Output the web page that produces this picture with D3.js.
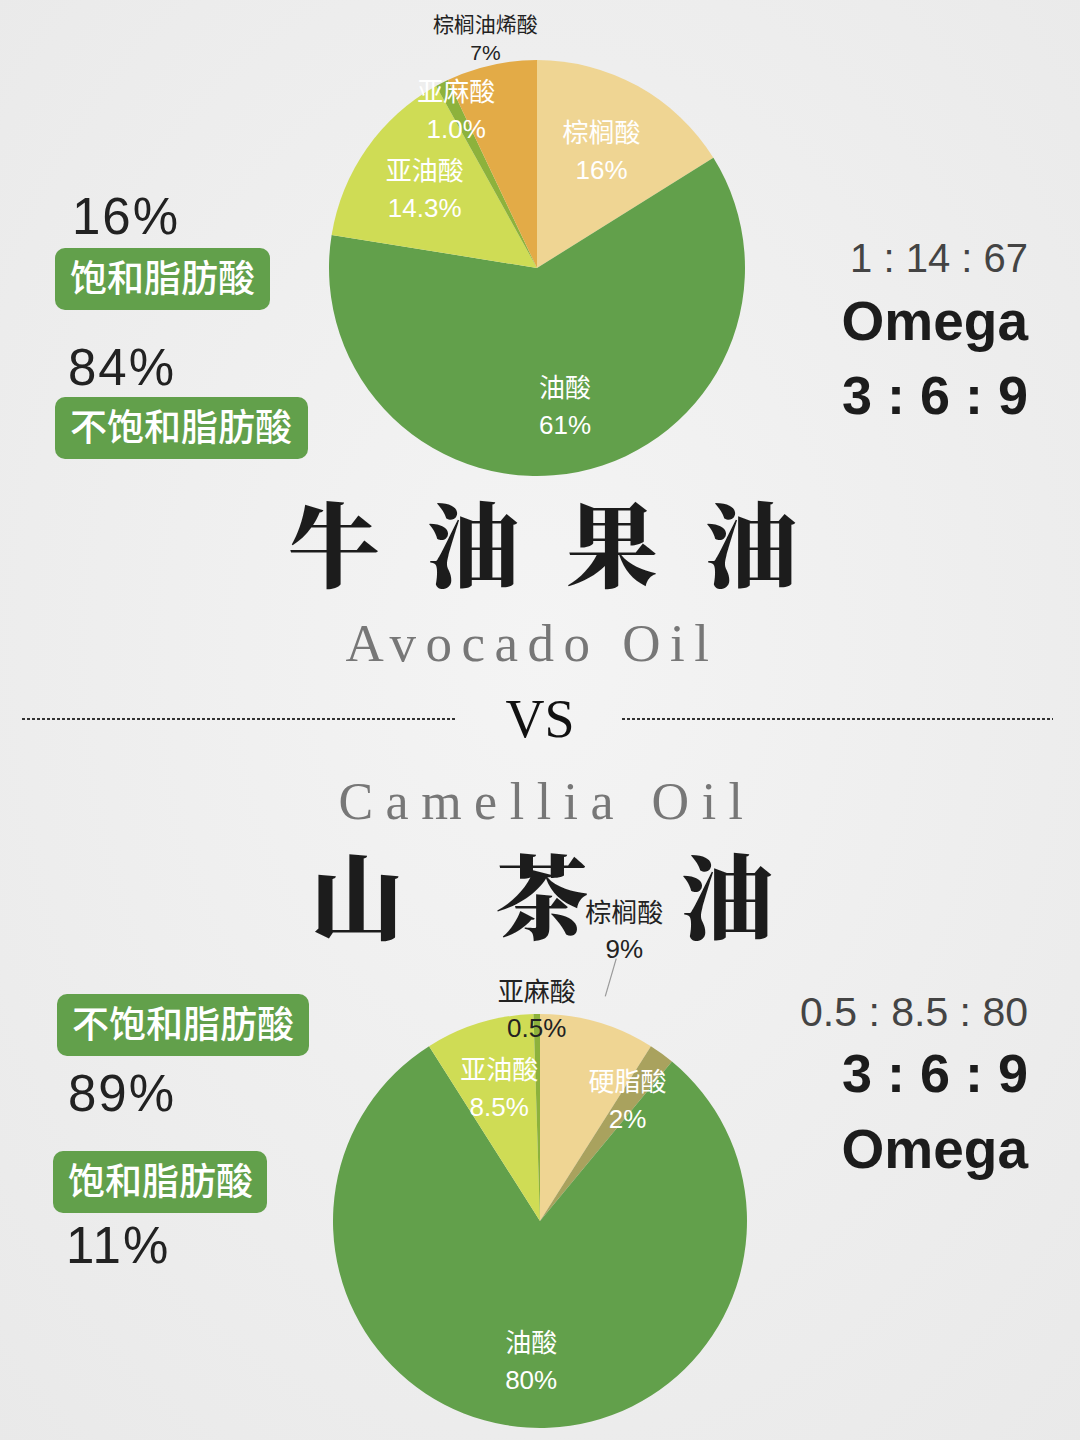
<!DOCTYPE html>
<html>
<head>
<meta charset="utf-8">
<script src="https://cdn.jsdelivr.net/npm/d3@7"></script>
<style>
  html, body { margin: 0; padding: 0; background: #efefef; }
  svg { display: block; }
</style>
</head>
<body>
<div id="chart"></div>
<script>
// ---------- DATA ----------
const avocadoNames  = ["棕榈酸", "油酸", "亚油酸", "亚麻酸", "棕榈油烯酸"];
const avocadoValues = [16, 61, 14.3, 1.0, 7];
const avocadoLabels = ["16%", "61%", "14.3%", "1.0%", "7%"];

const camelliaNames  = ["棕榈酸", "硬脂酸", "油酸", "亚油酸", "亚麻酸"];
const camelliaValues = [9, 2, 80, 8.5, 0.5];
const camelliaLabels = ["9%", "2%", "80%", "8.5%", "0.5%"];

const avocadoFatTypes   = ["饱和脂肪酸", "不饱和脂肪酸"];
const avocadoFatShares  = ["16%", "84%"];
const camelliaFatTypes  = ["不饱和脂肪酸", "饱和脂肪酸"];
const camelliaFatShares = ["89%", "11%"];

const avocadoRatio  = "1 : 14 : 67";
const camelliaRatio = "0.5 : 8.5 : 80";

// ---------- STYLE ----------
const W = 1080, H = 1440;
const colorOf = {
  "棕榈酸": "#efd593", "油酸": "#62a04b", "亚油酸": "#cfdc55",
  "亚麻酸": "#8db23c", "棕榈油烯酸": "#e3ab47", "硬脂酸": "#a9a25e"
};
const GREEN = "#62a04b";
const CJK = "'Noto Sans CJK SC', 'Noto Sans', sans-serif";
const CJK_TITLE = "'Noto Serif CJK SC', 'Noto Sans CJK SC', serif";
const LAT = "'Liberation Sans', Arial, sans-serif";
const SERIF = "'Liberation Serif', 'DejaVu Serif', serif";

const svg = d3.select("#chart").append("svg")
  .attr("width", W).attr("height", H);

// background
const defs = svg.append("defs");
const bg = defs.append("radialGradient").attr("id", "bg").attr("cx", "50%").attr("cy", "45%").attr("r", "75%");
bg.append("stop").attr("offset", "0%").attr("stop-color", "#f4f4f4");
bg.append("stop").attr("offset", "100%").attr("stop-color", "#e9e9e9");
svg.append("rect").attr("width", W).attr("height", H).attr("fill", "url(#bg)");

// ---------- PIE ----------
function drawPie(cx, cy, r, names, values, labels, opts) {
  const data = names.map((n, i) => ({ name: n, value: values[i], label: labels[i] }));
  const pie = d3.pie().sort(null).value(d => d.value).startAngle(0).endAngle(2 * Math.PI);
  const arcs = pie(data);
  const g = svg.append("g").attr("class", "pie").attr("transform", `translate(${cx},${cy})`);
  const arc = d3.arc().innerRadius(0).outerRadius(r);
  g.selectAll("path.slice").data(arcs).join("path")
    .attr("class", "slice")
    .attr("d", arc)
    .attr("fill", d => colorOf[d.data.name]);

  arcs.forEach((a, i) => {
    const o = opts[i];
    const mid = (a.startAngle + a.endAngle) / 2;
    const rr = r * o.rf;
    const x = Math.sin(mid) * rr, y = -Math.cos(mid) * rr;
    if (o.leader) {
      const [r1, r2] = o.leader;
      g.append("line")
        .attr("x1", Math.sin(mid) * r * r1).attr("y1", -Math.cos(mid) * r * r1)
        .attr("x2", Math.sin(mid) * r * r2).attr("y2", -Math.cos(mid) * r * r2)
        .attr("stroke", "#999").attr("stroke-width", 1.2);
    }
    const t = g.append("text")
      .attr("text-anchor", "middle")
      .attr("fill", o.color)
      .attr("font-family", CJK)
      .attr("font-size", o.size);
    t.append("tspan").attr("x", x).attr("y", y - o.gap / 2 + o.size * 0.35).text(a.data.name);
    t.append("tspan").attr("x", x).attr("y", y + o.gap / 2 + o.size * 0.35)
      .attr("font-family", LAT).text(a.data.label);
  });
}

const W_ = "#ffffff", D_ = "#222222";

// ---------- LEFT BLOCKS ----------
function pct(x, y, txt) {
  svg.append("text").attr("x", x).attr("y", y)
    .attr("font-family", LAT).attr("font-size", 51).attr("fill", "#222")
    .attr("letter-spacing", 2).text(txt);
}
function box(x, y, w, txt) {
  svg.append("rect").attr("x", x).attr("y", y).attr("width", w).attr("height", 62)
    .attr("rx", 10).attr("fill", GREEN);
  svg.append("text").attr("x", x + 15).attr("y", y + 44)
    .attr("font-family", CJK).attr("font-size", 37).attr("font-weight", 500)
    .attr("fill", "#fff").text(txt);
}
pct(72, 234, avocadoFatShares[0]);
box(55, 248, 215, avocadoFatTypes[0]);
pct(68, 385, avocadoFatShares[1]);
box(55, 397, 253, avocadoFatTypes[1]);

box(57, 994, 252, camelliaFatTypes[0]);
pct(68, 1111, camelliaFatShares[0]);
box(53, 1151, 214, camelliaFatTypes[1]);
pct(66, 1263, camelliaFatShares[1]);

// ---------- RIGHT BLOCKS ----------
function rtext(y, txt, size, weight, color) {
  svg.append("text").attr("x", 1028).attr("y", y).attr("text-anchor", "end")
    .attr("font-family", LAT).attr("font-size", size).attr("font-weight", weight)
    .attr("fill", color).text(txt);
}
rtext(272, avocadoRatio, 40, 400, "#444");
rtext(340, "Omega", 55, 700, "#1c1c1c");
rtext(414, "3 : 6 : 9", 54, 700, "#1c1c1c");

rtext(1026, camelliaRatio, 41, 400, "#444");
rtext(1092, "3 : 6 : 9", 54, 700, "#1c1c1c");
rtext(1168, "Omega", 55, 700, "#1c1c1c");

// ---------- TITLES ----------
svg.append("text").attr("x", 288).attr("y", 580)
  .attr("font-family", CJK_TITLE).attr("font-weight", 900).attr("font-size", 92)
  .attr("letter-spacing", 47).attr("fill", "#1c1c1c").text("牛油果油");
svg.append("text").attr("x", 532).attr("y", 661).attr("text-anchor", "middle")
  .attr("font-family", SERIF).attr("font-size", 53).attr("letter-spacing", 9.5)
  .attr("fill", "#777").text("Avocado Oil");

// VS divider
svg.append("line").attr("x1", 22).attr("x2", 456).attr("y1", 719).attr("y2", 719)
  .attr("stroke", "#333").attr("stroke-width", 2).attr("stroke-dasharray", "3,2");
svg.append("line").attr("x1", 622).attr("x2", 1053).attr("y1", 719).attr("y2", 719)
  .attr("stroke", "#333").attr("stroke-width", 2).attr("stroke-dasharray", "3,2");
svg.append("text").attr("x", 540).attr("y", 737).attr("text-anchor", "middle")
  .attr("font-family", SERIF).attr("font-size", 54).attr("fill", "#111").text("VS");

svg.append("text").attr("x", 547).attr("y", 819).attr("text-anchor", "middle")
  .attr("font-family", SERIF).attr("font-size", 52).attr("letter-spacing", 12.5)
  .attr("fill", "#777").text("Camellia Oil");
svg.append("text").attr("x", 311).attr("y", 932)
  .attr("font-family", CJK_TITLE).attr("font-weight", 900).attr("font-size", 92)
  .attr("letter-spacing", 93).attr("fill", "#1c1c1c").text("山茶油");

// ---------- PIES (drawn last so outside labels sit over titles) ----------
drawPie(537, 268, 208, avocadoNames, avocadoValues, avocadoLabels, [
  { rf: 0.64, color: W_, size: 26, gap: 37 },
  { rf: 0.68, color: W_, size: 26, gap: 37 },
  { rf: 0.66, color: W_, size: 26, gap: 37 },
  { rf: 0.85, color: W_, size: 26, gap: 37 },
  { rf: 1.13, color: D_, size: 21, gap: 28 }
]);
drawPie(540, 1221, 207, camelliaNames, camelliaValues, camelliaLabels, [
  { rf: 1.46, color: D_, size: 26, gap: 36, leader: [1.13, 1.32] },
  { rf: 0.72, color: W_, size: 26, gap: 37 },
  { rf: 0.68, color: W_, size: 26, gap: 37 },
  { rf: 0.67, color: W_, size: 26, gap: 37 },
  { rf: 1.02, color: D_, size: 26, gap: 36 }
]);
</script>
</body>
</html>
